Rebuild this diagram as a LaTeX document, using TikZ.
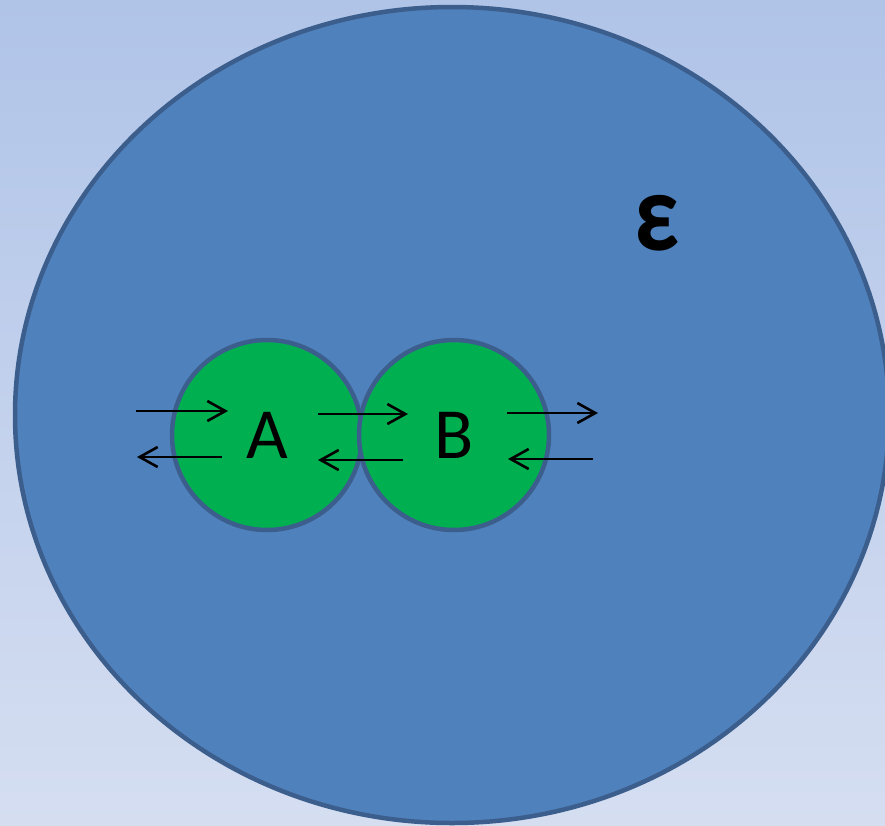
\documentclass[tikz,border=0pt]{standalone}
\usepackage{fontspec}
\setmainfont{Carlito}
\usetikzlibrary{arrows.meta}

\definecolor{bgtop}{RGB}{176,196,232}
\definecolor{bgbot}{RGB}{213,222,241}
\definecolor{cellfill}{RGB}{79,129,189}
\definecolor{cellline}{RGB}{60,94,140}
\definecolor{subfill}{RGB}{0,176,80}

\tikzset{
  flux/.style={line width=2.6pt, -{Straight Barb[length=18pt,width=20pt,line width=2.6pt]}},
  subcell/.style={circle, draw=cellline, line width=4.5pt, fill=subfill,
    minimum size=190pt, inner sep=0pt, font=\fontsize{72}{80}\selectfont}
}

\begin{document}
\begin{tikzpicture}[x=1pt,y=-1pt]
\useasboundingbox[shade, top color=bgtop, bottom color=bgbot] (0,0) rectangle (885,825);
% environment
\draw[cellline, line width=4.5pt, fill=cellfill] (452,415) ellipse [x radius=437pt, y radius=408pt];
\node (eps) at (657,223) {\scalebox{0.88}[1]{\fontsize{112}{120}\selectfont\bfseries ε}};
% the two compartments
\node[subcell] (A) at (267,435) {A};
\node[subcell] (B) at (454,435) {B};
% exchange arrows
\coordinate (inA1) at (136,411);   \coordinate (inA2) at (228,411);
\coordinate (outA1) at (222,457);  \coordinate (outA2) at (137,457);
\coordinate (ab1) at (318,414);    \coordinate (ab2) at (408,414);
\coordinate (ba1) at (403,460);    \coordinate (ba2) at (318,460);
\coordinate (outB1) at (507,413);  \coordinate (outB2) at (598,413);
\coordinate (inB1) at (593,459);   \coordinate (inB2) at (508,459);
\draw[flux] (inA1) -- (inA2);
\draw[flux] (outA1) -- (outA2);
\draw[flux] (ab1) -- (ab2);
\draw[flux] (ba1) -- (ba2);
\draw[flux] (outB1) -- (outB2);
\draw[flux] (inB1) -- (inB2);
\end{tikzpicture}
\end{document}
